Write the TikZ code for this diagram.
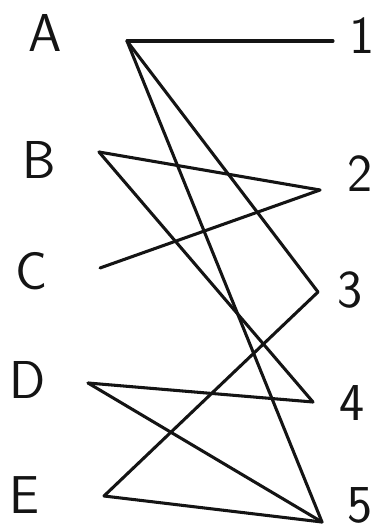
\documentclass[tikz,border=0pt]{standalone}
\usepackage{tikz}
\usetikzlibrary{positioning}
\definecolor{penblack}{RGB}{20,20,20}

\begin{document}
\begin{tikzpicture}[
    x=0.75pt, y=-0.75pt,
    letter/.style={font=\sffamily\fontsize{40}{40}\selectfont, text=penblack, inner sep=0pt},
    edge/.style={line width=2.3pt, penblack, line cap=round, line join=round},
]
    \useasboundingbox (0,0) rectangle (379,531);

    % Left column: letters
    \node[letter] (A) at (45,33) {A};
    \node[letter] (B) at (39,160) {B};
    \node[letter] (C) at (32,271) {C};
    \node[letter] (D) at (28,380) {D};
    \node[letter] (E) at (24,495) {E};

    % Right column: numbers
    \node[letter] (n1) at (362,36) {1};
    \node[letter] (n2) at (360,174) {2};
    \node[letter] (n3) at (350,290) {3};
    \node[letter] (n4) at (352,403) {4};
    \node[letter] (n5) at (360,505) {5};

    % Line ends
    \coordinate (pA) at (127,41);
    \coordinate (pB) at (99,152);
    \coordinate (pC) at (100,268);
    \coordinate (pD) at (88,383);
    \coordinate (pE) at (104,496);
    \coordinate (p1) at (333,41);
    \coordinate (p2) at (320,190);
    \coordinate (p3) at (318,292);
    \coordinate (p4) at (313,402);
    \coordinate (p5) at (322,522);

    % Connections
    \draw[edge] (pA) -- (p1);
    \draw[edge] (pA) -- (p3);
    \draw[edge] (pA) -- (p5);
    \draw[edge] (pB) -- (p2);
    \draw[edge] (pB) -- (p4);
    \draw[edge] (pC) -- (p2);
    \draw[edge] (pD) -- (p4);
    \draw[edge] (pD) -- (p5);
    \draw[edge] (pE) -- (p3);
    \draw[edge] (pE) -- (p5);
\end{tikzpicture}
\end{document}
